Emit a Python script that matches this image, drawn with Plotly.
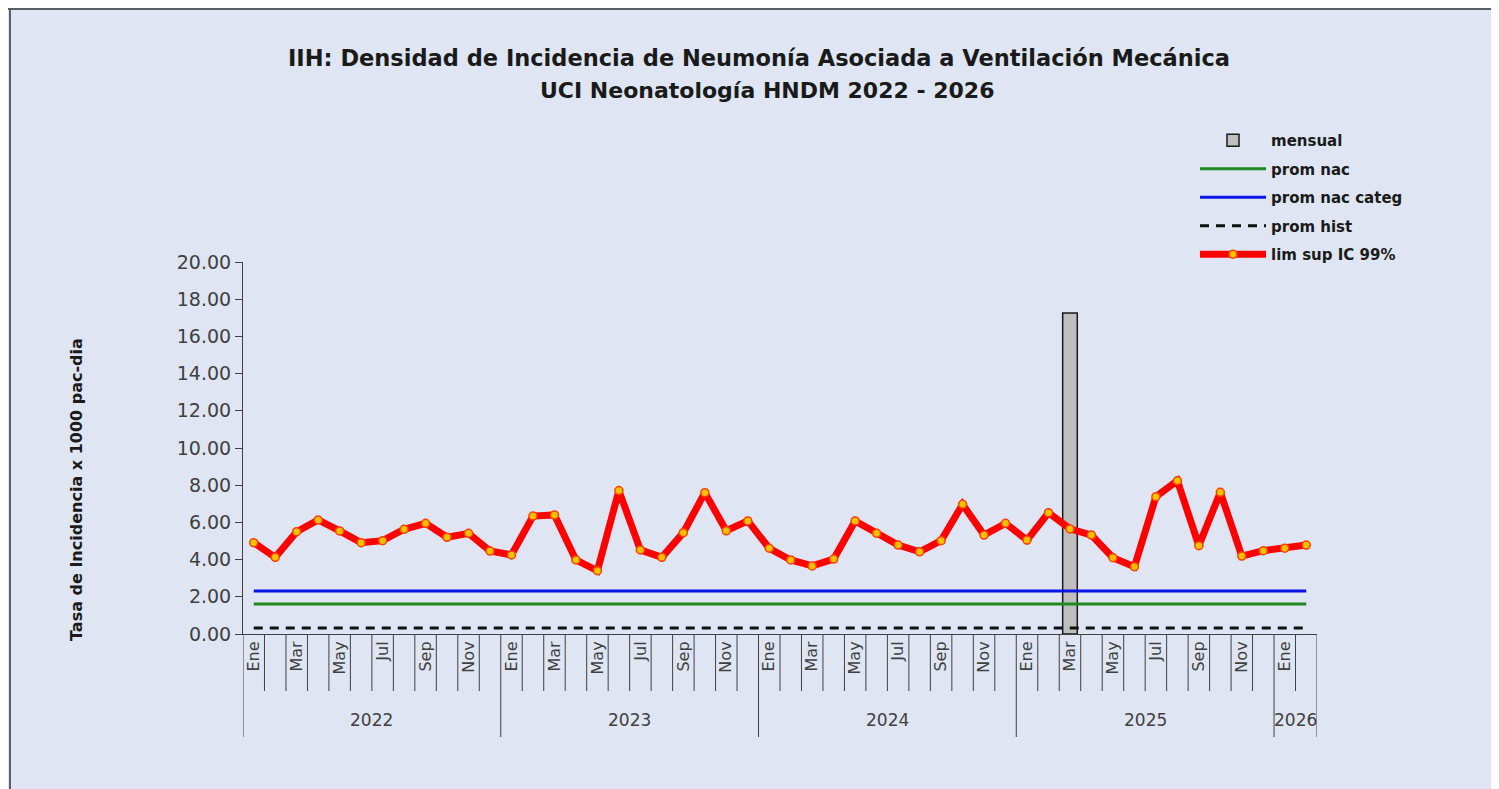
import plotly.graph_objects as go

# months Ene 2022 .. Feb 2026
meses = ["Ene", "Feb", "Mar", "Abr", "May", "Jun", "Jul", "Ago", "Sep", "Oct", "Nov", "Dic"]
anios = ["2022", "2023", "2024", "2025", "2026"]
meses_por_anio = [12, 12, 12, 12, 2]

lim_sup = [
    4.91, 4.12, 5.50, 6.13, 5.54, 4.91, 5.02, 5.63, 5.95, 5.20, 5.41, 4.46,
    4.25, 6.34, 6.40, 3.98, 3.40, 7.71, 4.52, 4.12, 5.45, 7.60, 5.55, 6.08,
    4.61, 3.98, 3.66, 4.03, 6.08, 5.41, 4.78, 4.42, 5.02, 6.97, 5.32, 5.95,
    5.05, 6.52, 5.65, 5.32, 4.10, 3.62, 7.38, 8.24, 4.75, 7.62, 4.19, 4.48,
    4.61, 4.78,
]
mensual = [None] * 38 + [17.26] + [None] * 11
prom_nac = 1.61
prom_nac_categ = 2.31
prom_hist = 0.32

labels = []
for a, n in zip(anios, meses_por_anio):
    labels += meses[:n]
n = len(labels)
x = list(range(n))

FONT = "DejaVu Sans"
OFF = 8  # page body margin
W, H = 1499 - OFF, 789 - OFF
L, R, T, B = 243 - OFF, W - (1317 - OFF), 262 - OFF, H - (634 - OFF)
PW, PH = W - L - R, H - T - B


# positions measured on the 1499x789 window -> paper coords
def px_x(p):
    return (p - OFF - L) / PW


def px_y(p):
    return (H - B - (p - OFF)) / PH


fig = go.Figure()
fig.add_trace(go.Bar(x=x, y=mensual, name="mensual", width=0.68,
                     marker=dict(color="#bfbfbf", line=dict(color="#1a1a1a", width=1.5)),
                     legendgroup="a"))
fig.add_trace(go.Scatter(x=x, y=[prom_nac] * n, mode="lines", name="prom nac",
                         line=dict(color="#1e8a1e", width=3), legendgroup="b"))
fig.add_trace(go.Scatter(x=x, y=[prom_nac_categ] * n, mode="lines", name="prom nac categ",
                         line=dict(color="#0a14e6", width=3), legendgroup="c"))
fig.add_trace(go.Scatter(x=x, y=[prom_hist] * n, mode="lines", name="prom hist",
                         line=dict(color="#111111", width=3, dash="9px,7px"), legendgroup="d"))
fig.add_trace(go.Scatter(x=x, y=lim_sup, mode="lines+markers", name="lim sup IC 99%",
                         line=dict(color="#ff0000", width=7),
                         marker=dict(size=8, color="#ffc000", line=dict(color="#ff4000", width=1.5)),
                         legendgroup="e"))

shapes = []
# category dividers under the axis
starts = [0]
for m in meses_por_anio:
    starts.append(starts[-1] + m)
for i in range(n + 1):
    big = i in starts
    shapes.append(dict(type="line", xref="x", yref="paper", x0=i - 0.5, x1=i - 0.5,
                       y0=0, y1=px_y(737 if big else 691),
                       line=dict(color="#404040", width=1)))
# outer frame
shapes.append(dict(type="line", xref="paper", yref="paper", x0=px_x(OFF), x1=px_x(1499),
                   y0=px_y(9), y1=px_y(9), line=dict(color="#5a5f66", width=2)))
shapes.append(dict(type="line", xref="paper", yref="paper", x0=px_x(10), x1=px_x(10),
                   y0=px_y(9), y1=px_y(789), line=dict(color="#5a5f66", width=2)))

annotations = []
for a, s, m in zip(anios, starts, meses_por_anio):
    annotations.append(dict(x=s + (m - 1) / 2, y=px_y(720), xref="x", yref="paper",
                            xanchor="center", yanchor="middle",
                            text=a, showarrow=False, font=dict(family=FONT, size=17, color="#404040")))
annotations.append(dict(x=px_x(76), y=px_y(490), xref="paper", yref="paper", textangle=-90,
                        xanchor="center", yanchor="middle",
                        text="<b>Tasa de Incidencia x 1000 pac-dia</b>", showarrow=False,
                        font=dict(family=FONT, size=16, color="#1a1a1a")))
annotations.append(dict(x=px_x(759), y=px_y(58), xref="paper", yref="paper",
                        xanchor="center", yanchor="middle",
                        text="<b>IIH: Densidad de Incidencia de Neumonía Asociada a Ventilación Mecánica</b>",
                        showarrow=False, font=dict(family=FONT, size=22.5, color="#1a1a1a")))
annotations.append(dict(x=px_x(767), y=px_y(90), xref="paper", yref="paper",
                        xanchor="center", yanchor="middle",
                        text="<b>UCI Neonatología HNDM 2022 - 2026</b>",
                        showarrow=False, font=dict(family=FONT, size=22, color="#1a1a1a")))

fig.update_layout(
    width=W, height=H,
    margin=dict(l=L, r=R, t=T, b=B),
    paper_bgcolor="#dfe5f2", plot_bgcolor="#dfe5f2",
    showlegend=True,
    legend=dict(x=px_x(1195), y=px_y(124), xanchor="left", yanchor="top",
                bgcolor="rgba(0,0,0,0)", itemwidth=66, tracegroupgap=6,
                font=dict(family=FONT, size=15, color="#1a1a1a", weight="bold")),
    bargap=0.3,
    shapes=shapes,
    annotations=annotations,
)
fig.update_xaxes(range=[-0.5, n - 0.5], tickmode="array", tickvals=x[::2], ticktext=labels[::2],
                 tickangle=-90, ticks="", showgrid=False, zeroline=False,
                 showline=True, linecolor="#404040", linewidth=1,
                 tickfont=dict(family=FONT, size=16, color="#404040"))
fig.update_yaxes(range=[0, 20], dtick=2, tickformat=".2f", ticks="outside", ticklen=7,
                 tickcolor="#404040", showgrid=False, zeroline=False,
                 showline=True, linecolor="#404040", linewidth=1,
                 tickfont=dict(family=FONT, size=19, color="#404040"))

fig.write_html("out.html")
